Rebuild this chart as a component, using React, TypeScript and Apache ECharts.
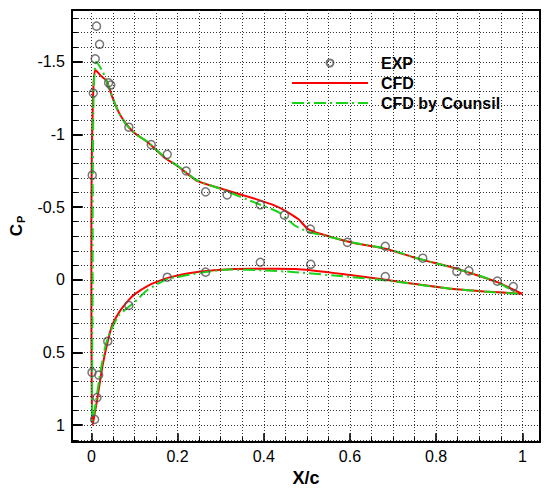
import React, { useEffect, useRef } from "react";
import * as echarts from "echarts";

// Experimental data (x/c, Cp)
const expX = [0.002, 0.0045, 0.009, 0.012, 0.019, 0.04, 0.045, 0.087, 0.139, 0.176, 0.22, 0.265, 0.315, 0.392, 0.448, 0.508, 0.594, 0.682, 0.769, 0.848, 0.876, 0.942, 0.979,
  0.0015, 0.017, 0.013, 0.0075, 0.038, 0.087, 0.176, 0.265, 0.392, 0.509, 0.682];
const expCp = [-0.72, -1.285, -1.52, -1.745, -1.62, -1.355, -1.34, -1.05, -0.93, -0.863, -0.749, -0.605, -0.584, -0.516, -0.445, -0.349, -0.258, -0.231, -0.149, -0.057, -0.062, 0.009, 0.046,
  0.637, 0.655, 0.81, 0.96, 0.422, 0.176, -0.018, -0.053, -0.121, -0.107, -0.023];

// CFD (present) – closed loop: TE lower -> LE -> TE upper
const cfdX = [1.0, 0.912, 0.836, 0.723, 0.609, 0.473, 0.38, 0.321, 0.253, 0.2, 0.17, 0.132, 0.1, 0.086, 0.065, 0.048, 0.04, 0.03, 0.022, 0.014, 0.007, 0.003,
  0.001, 0.0, 0.0, 0.001, 0.003, 0.005, 0.009, 0.02, 0.036, 0.048, 0.064, 0.079, 0.1, 0.132, 0.17, 0.2, 0.245, 0.306, 0.382, 0.427, 0.45, 0.48, 0.503, 0.533, 0.609, 0.685, 0.76, 0.836, 0.897, 0.942, 1.0];
const cfdCp = [0.096, 0.08, 0.062, 0.016, -0.03, -0.075, -0.076, -0.073, -0.057, -0.03, -0.007, 0.039, 0.1, 0.141, 0.22, 0.313, 0.4, 0.53, 0.66, 0.815, 0.93, 0.998,
  0.8, 0.2, -0.4, -0.85, -1.15, -1.35, -1.445, -1.41, -1.365, -1.262, -1.15, -1.08, -1.01, -0.943, -0.84, -0.783, -0.68, -0.623, -0.555, -0.509, -0.475, -0.418, -0.349, -0.315, -0.253, -0.212, -0.144, -0.087, -0.03, 0.016, 0.096];

// CFD by Counsil
const counsilX = [0.99, 0.927, 0.836, 0.685, 0.6, 0.473, 0.4, 0.32, 0.253, 0.2, 0.177, 0.13, 0.1, 0.064, 0.045, 0.033, 0.02, 0.01, 0.004, 0.0015,
  0.002, 0.003, 0.003, 0.004, 0.006, 0.011, 0.026, 0.04, 0.06, 0.08, 0.1, 0.132, 0.17, 0.2, 0.245, 0.3, 0.389, 0.434, 0.473, 0.503, 0.533, 0.609, 0.685, 0.76, 0.836, 0.9, 0.95, 0.99];
const counsilCp = [0.096, 0.084, 0.062, 0.005, -0.02, -0.053, -0.065, -0.071, -0.048, -0.02, -0.007, 0.07, 0.153, 0.245, 0.35, 0.45, 0.65, 0.85, 0.95, 0.97,
  0.5, 0.0, -0.5, -1.0, -1.35, -1.5, -1.434, -1.33, -1.17, -1.07, -1.01, -0.945, -0.845, -0.785, -0.685, -0.625, -0.52, -0.466, -0.372, -0.33, -0.31, -0.255, -0.215, -0.145, -0.085, -0.03, 0.03, 0.096];

// Tick labels and grid positions
const xTickLabels = [0, 0.2, 0.4, 0.6, 0.8, 1];
const yTickLabels = [-1.5, -1, -0.5, 0, 0.5, 1];
const xGrid = [0, 0.05, 0.1, 0.15, 0.2, 0.25, 0.3, 0.35, 0.4, 0.45, 0.5, 0.55, 0.6, 0.65, 0.7, 0.75, 0.8, 0.85, 0.9, 0.95, 1];
const yGrid = [-1.8, -1.7, -1.6, -1.5, -1.4, -1.3, -1.2, -1.1, -1, -0.9, -0.8, -0.7, -0.6, -0.5, -0.4, -0.3, -0.2, -0.1, 0,
  0.1, 0.2, 0.3, 0.4, 0.5, 0.6, 0.7, 0.8, 0.9, 1, 1.1];

const X_MIN = -0.045;
const X_MAX = 1.041;
const Y_MIN = -1.856;
const Y_MAX = 1.116;

const FONT = "'Liberation Sans', Arial, sans-serif";

const pairs = (xs: number[], ys: number[]) => xs.map((x, i) => [x, ys[i]]);
const isMajor = (list: number[], v: number) => list.some((t) => Math.abs(t - v) < 1e-6);

export default function App() {
  const ref = useRef<HTMLDivElement>(null);
  useEffect(() => {
    if (!ref.current) return;
    const chart = echarts.init(ref.current, undefined, { renderer: "svg" });

    // pixel-to-data factors for tick lengths
    const pxX = (X_MAX - X_MIN) / 478;
    const pxY = (Y_MAX - Y_MIN) / 434;

    const dotted = { color: "#333", width: 1, type: [1, 2] as any };
    const gridLines: any[] = [];
    xGrid.forEach((v) => gridLines.push([{ coord: [v, Y_MIN] }, { coord: [v, Y_MAX] }]));
    yGrid.forEach((v) => gridLines.push([{ coord: [X_MIN, v] }, { coord: [X_MAX, v] }]));

    const tickLines: any[] = [];
    xGrid.forEach((v) => {
      const len = isMajor(xTickLabels, v) ? 9 : 5;
      tickLines.push([{ coord: [v, Y_MAX] }, { coord: [v, Y_MAX - len * pxY], lineStyle: { width: len > 6 ? 1.6 : 1 } }]);
    });
    yGrid.forEach((v) => {
      const len = isMajor(yTickLabels, v) ? 11 : 6;
      tickLines.push([{ coord: [X_MIN, v] }, { coord: [X_MIN + len * pxX, v], lineStyle: { width: len > 6 ? 2 : 1 } }]);
    });

    chart.setOption({
      animation: false,
      backgroundColor: "#fff",
      grid: { left: 62, top: 10, width: 478, height: 434, show: false },
      legend: {
        orient: "vertical",
        left: 291,
        top: 53,
        padding: 0,
        itemWidth: 76,
        itemHeight: 7,
        itemGap: 0,
        textStyle: { fontFamily: FONT, fontWeight: "bold", fontSize: 16, color: "#000", lineHeight: 20, padding: [0, 0, 0, 8] },
        data: [
          { name: "EXP" },
          { name: "CFD", itemStyle: { opacity: 0 } },
          { name: "CFD by Counsil", itemStyle: { opacity: 0 } },
        ],
      },
      xAxis: [
        {
          type: "value",
          min: X_MIN,
          max: X_MAX,
          name: "X/c",
          nameLocation: "middle",
          nameGap: 21,
          nameTextStyle: { fontFamily: FONT, fontWeight: "bold", fontSize: 18, color: "#000" },
          axisLine: { show: true, onZero: false, lineStyle: { color: "#000", width: 2 } },
          axisTick: { show: false },
          axisLabel: { show: true, customValues: xTickLabels, margin: 6, fontFamily: FONT, fontSize: 16, color: "#000" },
          splitLine: { show: false },
        },
        {
          type: "value",
          min: X_MIN,
          max: X_MAX,
          position: "top",
          axisLine: { show: true, onZero: false, lineStyle: { color: "#000", width: 2 } },
          axisTick: { show: false },
          axisLabel: { show: false },
          splitLine: { show: false },
        },
      ],
      yAxis: [
        {
          type: "value",
          inverse: true,
          min: Y_MIN,
          max: Y_MAX,
          name: "{c|C}{p|P}",
          nameLocation: "middle",
          nameRotate: 90,
          nameGap: 30,
          nameTextStyle: {
            rich: {
              c: { fontFamily: FONT, fontWeight: "bold", fontSize: 17, color: "#000" },
              p: { fontFamily: FONT, fontWeight: "bold", fontSize: 11, color: "#000", padding: [9, 0, 0, 1] },
            },
          },
          axisLine: { show: true, onZero: false, lineStyle: { color: "#000", width: 2 } },
          axisTick: { show: false },
          axisLabel: { show: true, customValues: yTickLabels, margin: 7, fontFamily: FONT, fontSize: 16, color: "#000" },
          splitLine: { show: false },
        },
        {
          type: "value",
          inverse: true,
          min: Y_MIN,
          max: Y_MAX,
          position: "right",
          axisLine: { show: true, onZero: false, lineStyle: { color: "#000", width: 2 } },
          axisTick: { show: false },
          axisLabel: { show: false },
          splitLine: { show: false },
        },
      ],
      series: [
        {
          name: "grid",
          type: "line",
          xAxisIndex: 0,
          yAxisIndex: 0,
          silent: true,
          symbol: "none",
          lineStyle: { opacity: 0 },
          data: [[X_MIN, Y_MIN]],
          markLine: {
            silent: true,
            animation: false,
            symbol: ["none", "none"],
            label: { show: false },
            emphasis: { disabled: true },
            lineStyle: dotted,
            data: gridLines,
          },
          z: 1,
        },
        {
          name: "ticks",
          type: "line",
          xAxisIndex: 0,
          yAxisIndex: 0,
          silent: true,
          symbol: "none",
          lineStyle: { opacity: 0 },
          data: [[X_MIN, Y_MIN]],
          markLine: {
            silent: true,
            animation: false,
            symbol: ["none", "none"],
            label: { show: false },
            emphasis: { disabled: true },
            lineStyle: { color: "#000", width: 1, type: "solid" },
            data: tickLines,
          },
          z: 5,
        },
        {
          name: "EXP",
          type: "scatter",
          xAxisIndex: 0,
          yAxisIndex: 0,
          symbol: "circle",
          symbolSize: 8,
          itemStyle: { color: "rgba(255,255,255,0)", borderColor: "#555", borderWidth: 1.5 },
          data: pairs(expX, expCp),
          z: 4,
        },
        {
          name: "CFD",
          type: "line",
          xAxisIndex: 0,
          yAxisIndex: 0,
          symbol: "none",
          smooth: 0.2,
          lineStyle: { color: "#ff0000", width: 2 },
          itemStyle: { color: "#ff0000" },
          data: pairs(cfdX, cfdCp),
          z: 2,
        },
        {
          name: "CFD by Counsil",
          type: "line",
          xAxisIndex: 0,
          yAxisIndex: 0,
          symbol: "none",
          smooth: 0.2,
          lineStyle: { color: "#19d419", width: 2, type: [12, 4, 2, 4] },
          itemStyle: { color: "#19d419" },
          data: pairs(counsilX, counsilCp),
          z: 3,
        },
      ],
    });
    return () => chart.dispose();
  }, []);
  return <div ref={ref} style={{ position: "absolute", left: 0, top: 0, width: 550, height: 492, background: "#fff" }} />;
}
